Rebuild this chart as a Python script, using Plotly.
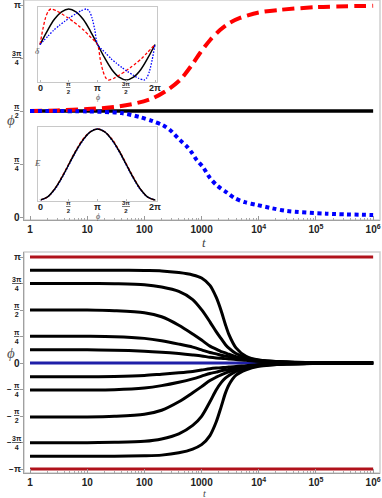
import numpy as np
import plotly.graph_objects as go

PI = np.pi

# ---------------- top panel: phi(t), three runs ----------------
t_black = [1, 1e6]
phi_black = [1.5708, 1.5708]

t_red = [1, 3, 10, 30, 75, 140, 250, 420, 700, 940, 1400, 2100, 3000, 4700, 1e4, 2.35e4, 1e5, 1e6]
phi_red = [1.571, 1.58, 1.60, 1.63, 1.69, 1.76, 1.88, 2.03, 2.27, 2.43, 2.62, 2.77, 2.87, 2.95, 3.03, 3.07, 3.11, 3.13]

t_blue = [1, 10, 40, 84, 140, 210, 280, 420, 560, 680, 830, 1060, 1400, 1850, 2800, 3800, 5700, 9200, 17000, 31000, 1.5e5, 1e6]
phi_blue = [1.571, 1.565, 1.54, 1.48, 1.42, 1.36, 1.29, 1.14, 1.04, 0.95, 0.84, 0.74, 0.58, 0.47, 0.36, 0.28, 0.22, 0.18, 0.13, 0.09, 0.05, 0.03]

# ---------------- inset 1: delta(phi) ----------------
phi_d_black = [0, 0.393, 0.785, 1.178, 1.571, 1.963, 2.356, 2.749, 3.142,
               3.534, 3.927, 4.320, 4.712, 5.105, 5.498, 5.890, 6.283]
d_black = [0, 0.38, 0.71, 0.92, 1.0, 0.92, 0.71, 0.38, 0, -0.38, -0.71, -0.92, -1.0, -0.92, -0.71, -0.38, 0]

phi_d_red = [0, 0.15, 0.3, 0.45, 0.6, 0.9, 1.2, 1.5, 1.8, 2.1, 2.4, 2.7, 3.142,
             3.29, 3.44, 3.59, 3.74, 4.04, 4.34, 4.64, 4.94, 5.24, 5.54, 5.84, 6.283]
d_red = [0, 0.42, 0.75, 0.94, 1.0, 0.95, 0.86, 0.76, 0.65, 0.53, 0.40, 0.24, 0,
         -0.42, -0.75, -0.94, -1.0, -0.95, -0.86, -0.76, -0.65, -0.53, -0.40, -0.24, 0]

phi_d_blue = [0, 0.44, 0.74, 1.04, 1.34, 1.64, 1.94, 2.24, 2.54, 2.69, 2.84, 2.99, 3.142,
              3.58, 3.88, 4.18, 4.48, 4.78, 5.08, 5.38, 5.68, 5.83, 5.98, 6.13, 6.283]
d_blue = [0, 0.24, 0.40, 0.53, 0.65, 0.76, 0.86, 0.95, 1.0, 0.94, 0.75, 0.42, 0,
          -0.24, -0.40, -0.53, -0.65, -0.76, -0.86, -0.95, -1.0, -0.94, -0.75, -0.42, 0]

# ---------------- inset 2: E(phi) ----------------
phi_e = [0, 0.393, 0.785, 1.178, 1.571, 1.963, 2.356, 2.749, 3.142,
         3.534, 3.927, 4.320, 4.712, 5.105, 5.498, 5.890, 6.283]
e_black = [0, 0.04, 0.15, 0.31, 0.50, 0.69, 0.85, 0.96, 1.0, 0.96, 0.85, 0.69, 0.50, 0.31, 0.15, 0.04, 0]
e_red = [0, 0.04, 0.15, 0.32, 0.51, 0.70, 0.86, 0.96, 1.0, 0.96, 0.86, 0.70, 0.51, 0.32, 0.15, 0.04, 0]
e_blue = [0, 0.04, 0.14, 0.30, 0.49, 0.68, 0.84, 0.96, 1.0, 0.96, 0.84, 0.68, 0.49, 0.30, 0.14, 0.04, 0]

# ---------------- bottom panel: phi(t) for many initial angles ----------------
t_grid = [1, 10, 30, 100, 200, 400, 700, 1000, 1400, 1800, 2200, 2600, 3000, 4000, 6000, 1e4, 3e4, 1e5, 1e6]
phi_runs = {
    "7pi/8": [2.75, 2.75, 2.75, 2.74, 2.73, 2.68, 2.61, 2.52, 2.30, 1.95, 1.55, 1.15, 0.85, 0.45, 0.20, 0.09, 0.03, 0.01, 0.00],
    "3pi/4": [2.36, 2.36, 2.35, 2.32, 2.25, 2.12, 1.88, 1.58, 1.22, 0.93, 0.72, 0.55, 0.44, 0.28, 0.16, 0.08, 0.03, 0.01, 0.00],
    "pi/2": [1.57, 1.57, 1.55, 1.49, 1.37, 1.12, 0.86, 0.68, 0.50, 0.41, 0.34, 0.30, 0.26, 0.19, 0.12, 0.06, 0.02, 0.01, 0.00],
    "pi/4": [0.79, 0.79, 0.78, 0.73, 0.66, 0.56, 0.47, 0.39, 0.31, 0.27, 0.23, 0.21, 0.19, 0.15, 0.11, 0.06, 0.02, 0.01, 0.00],
    "pi/8": [0.39, 0.39, 0.38, 0.35, 0.32, 0.28, 0.24, 0.21, 0.17, 0.15, 0.14, 0.13, 0.12, 0.10, 0.08, 0.05, 0.02, 0.01, 0.00],
    "-pi/8": [-0.41, -0.41, -0.40, -0.37, -0.33, -0.29, -0.25, -0.21, -0.17, -0.15, -0.14, -0.13, -0.12, -0.10, -0.08, -0.05, -0.02, -0.01, 0.00],
    "-pi/4": [-0.80, -0.80, -0.79, -0.74, -0.67, -0.57, -0.47, -0.39, -0.31, -0.27, -0.23, -0.21, -0.19, -0.15, -0.11, -0.06, -0.02, -0.01, 0.00],
    "-pi/2": [-1.60, -1.60, -1.58, -1.52, -1.40, -1.15, -0.88, -0.70, -0.52, -0.42, -0.35, -0.30, -0.26, -0.19, -0.12, -0.06, -0.02, -0.01, 0.00],
    "-3pi/4": [-2.36, -2.36, -2.35, -2.32, -2.25, -2.10, -1.85, -1.58, -1.15, -0.80, -0.58, -0.45, -0.37, -0.25, -0.15, -0.08, -0.03, -0.01, 0.00],
    "-7pi/8": [-2.76, -2.76, -2.76, -2.75, -2.73, -2.66, -2.55, -2.42, -2.15, -1.75, -1.30, -0.90, -0.65, -0.36, -0.20, -0.10, -0.03, -0.01, 0.00],
}
t_flat = [1, 1e6]
phi_top_flat = [PI, PI]
phi_bot_flat = [-PI, -PI]
phi_zero_flat = [0, 0]

# tick labels
x_tick_vals = [1, 10, 100, 1000, 1e4, 1e5, 1e6]
x_tick_text = ["1", "10", "100", "1000", "10<sup>4</sup>", "10<sup>5</sup>", "10<sup>6</sup>"]
x_minor_vals = [m * 10 ** d for d in range(6) for m in range(2, 10)]


def frac(num, den):
    return f"<u>{num}</u><br>{den}"


top_y_vals = [0, PI / 4, PI / 2, 3 * PI / 4, PI]
top_y_text = ["0", frac("π", "4"), frac("π", "2"), frac("3π", "4"), "π"]
bot_y_vals = [-PI, -3 * PI / 4, -PI / 2, -PI / 4, 0, PI / 4, PI / 2, 3 * PI / 4, PI]
bot_y_text = ["π", frac("3π", "4"), frac("π", "2"), frac("π", "4"), "0",
              frac("π", "4"), frac("π", "2"), frac("3π", "4"), "π"]
inset_x_vals = [0, PI / 2, PI, 3 * PI / 2, 2 * PI]
inset_x_text = ["0", frac("π", "2"), "π", frac("3π", "2"), "2π"]

# ---------------- layout geometry (pixels) ----------------
W, H = 382, 498
ML, MR, MT, MB = 24, 2, 0, 25
PW, PH = W - ML - MR, H - MT - MB


def px(x):
    return (x - ML) / PW


def py(y):
    return 1 - (y - MT) / PH


SANS = "Liberation Sans"
SERIF = "Liberation Serif"

fig = go.Figure()

# top panel
fig.add_trace(go.Scatter(x=t_black, y=phi_black, mode="lines",
                         line=dict(color="black", width=3.5), xaxis="x", yaxis="y"))
fig.add_trace(go.Scatter(x=t_red, y=phi_red, mode="lines",
                         line=dict(color="#ff0000", width=4, dash="12px,6px", shape="spline", smoothing=0.8),
                         xaxis="x", yaxis="y"))
fig.add_trace(go.Scatter(x=t_blue, y=phi_blue, mode="lines",
                         line=dict(color="#0000ff", width=4, dash="4px,3.5px", shape="spline", smoothing=0.8),
                         xaxis="x", yaxis="y"))

# inset 1
fig.add_trace(go.Scatter(x=phi_d_black, y=d_black, mode="lines",
                         line=dict(color="black", width=1.5, shape="spline"), xaxis="x3", yaxis="y3"))
fig.add_trace(go.Scatter(x=phi_d_red, y=d_red, mode="lines",
                         line=dict(color="#ff0000", width=1.3, dash="3px,2px", shape="spline", smoothing=0.7),
                         xaxis="x3", yaxis="y3"))
fig.add_trace(go.Scatter(x=phi_d_blue, y=d_blue, mode="lines",
                         line=dict(color="#0000ff", width=1.3, dash="1.5px,1.5px", shape="spline", smoothing=0.7),
                         xaxis="x3", yaxis="y3"))

# inset 2
fig.add_trace(go.Scatter(x=phi_e, y=e_red, mode="lines",
                         line=dict(color="#ff0000", width=1.3, dash="3px,2px", shape="spline"),
                         xaxis="x4", yaxis="y4"))
fig.add_trace(go.Scatter(x=phi_e, y=e_blue, mode="lines",
                         line=dict(color="#0000ff", width=1.3, dash="1.5px,1.5px", shape="spline"),
                         xaxis="x4", yaxis="y4"))
fig.add_trace(go.Scatter(x=phi_e, y=e_black, mode="lines",
                         line=dict(color="black", width=1.5, shape="spline"), xaxis="x4", yaxis="y4"))

# bottom panel
fig.add_trace(go.Scatter(x=t_flat, y=phi_top_flat, mode="lines",
                         line=dict(color="#b0121b", width=3), xaxis="x2", yaxis="y2"))
fig.add_trace(go.Scatter(x=t_flat, y=phi_bot_flat, mode="lines",
                         line=dict(color="#b0121b", width=3), xaxis="x2", yaxis="y2"))
fig.add_trace(go.Scatter(x=t_flat, y=phi_zero_flat, mode="lines",
                         line=dict(color="#1f1fa8", width=3), xaxis="x2", yaxis="y2"))
for name, vals in phi_runs.items():
    fig.add_trace(go.Scatter(x=t_grid, y=vals, mode="lines", name=name,
                             line=dict(color="black", width=3, shape="spline", smoothing=0.8),
                             xaxis="x2", yaxis="y2"))

log_range = [-0.105, 6.12]
main_x = dict(type="log", range=log_range, showgrid=False, zeroline=False, automargin=False,
              showline=True, linecolor="#a0a0a0", linewidth=1,
              tickmode="array", tickvals=x_tick_vals, ticktext=x_tick_text,
              ticks="inside", ticklen=4, tickcolor="#999999", ticklabeloverflow="allow",
              tickfont=dict(family=SANS, size=10, color="#222222", weight="bold"),
              minor=dict(tickvals=x_minor_vals, ticks="inside", ticklen=2, tickcolor="#aaaaaa"))
main_y = dict(showgrid=False, zeroline=False, showline=True, linecolor="#a0a0a0", linewidth=1,
              automargin=False, ticks="outside", ticklen=3, tickcolor="#999999", showticklabels=False)
inset_x = dict(range=[-0.11, 6.39], showgrid=False, zeroline=False, showline=True, mirror=True,
               automargin=False, linecolor="#c8c8c8", linewidth=1, tickmode="array", tickvals=inset_x_vals,
               ticks="inside", ticklen=2, tickcolor="#bbbbbb", showticklabels=False)
inset_y = dict(showgrid=False, zeroline=False, showline=True, mirror=True, automargin=False,
               linecolor="#c8c8c8", linewidth=1, showticklabels=False, ticks="")

fig.update_layout(
    width=W, height=H,
    margin=dict(l=ML, r=MR, t=MT, b=MB, autoexpand=False),
    paper_bgcolor="white", plot_bgcolor="white",
    showlegend=False,
    xaxis=dict(main_x, domain=[0, 1], anchor="y"),
    yaxis=dict(main_y, domain=[py(220), py(0)], range=[-0.044, 3.216], tickvals=top_y_vals),
    xaxis2=dict(main_x, domain=[0, 1], anchor="y2"),
    yaxis2=dict(main_y, domain=[py(473), py(252)], range=[-3.26, 3.29], tickvals=bot_y_vals),
    xaxis3=dict(inset_x, domain=[px(38), px(157)], anchor="y3"),
    yaxis3=dict(inset_y, domain=[py(82), py(7)], range=[-1.056, 1.056], anchor="x3"),
    xaxis4=dict(inset_x, domain=[px(38), px(157)], anchor="y4"),
    yaxis4=dict(inset_y, domain=[py(201), py(127)], range=[-0.014, 1.028], anchor="x4"),
)

# light frame on top/right of the main panels
for xr, yr in (("x", "y"), ("x2", "y2")):
    fig.add_shape(type="rect", xref=f"{xr} domain", yref=f"{yr} domain", x0=0, x1=1, y0=0, y1=1,
                  line=dict(color="#cfcfcf", width=1.5), layer="below")

annotations = []


def ylabel(val, text, yref, neg=False):
    if "<br>" in text:
        size = 7
    elif text == "0":
        size = 10
    else:
        size = 9
    annotations.append(dict(x=px(17), y=val, xref="paper", yref=yref, text=text, showarrow=False,
                            xanchor="center", yanchor="middle", align="center",
                            font=dict(family=SANS, size=size, color="#222222", weight="bold")))
    if neg:
        annotations.append(dict(x=px(9 if "<br>" in text else 11), y=val, xref="paper", yref=yref,
                                text="−", showarrow=False, xanchor="center", yanchor="middle",
                                font=dict(family=SANS, size=8, color="#222222", weight="bold")))


for v, s in zip(top_y_vals, top_y_text):
    ylabel(v, s, "y")
for v, s in zip(bot_y_vals, bot_y_text):
    ylabel(v, s, "y2", neg=v < -1e-9)

for xr, ylab_px, phi_px in (("x3", 88, 97), ("x4", 207, 216)):
    for v, s in zip(inset_x_vals, inset_x_text):
        annotations.append(dict(x=v, y=py(ylab_px), xref=xr, yref="paper", text=s, showarrow=False,
                                xanchor="center", yanchor="middle", align="center",
                                font=dict(family=SANS, size=6 if "<br>" in s else 9,
                                          color="#222222", weight="bold")))
    annotations.append(dict(x=PI, y=py(phi_px), xref=xr, yref="paper", text="ϕ", showarrow=False,
                            xanchor="center", yanchor="middle",
                            font=dict(family=SERIF, size=8, color="#555555", style="italic")))

annotations += [
    dict(x=px(33), y=py(44), xref="paper", yref="paper", text="δ", showarrow=False,
         font=dict(family=SERIF, size=9, color="#555555", style="italic")),
    dict(x=px(32), y=py(163), xref="paper", yref="paper", text="E", showarrow=False,
         font=dict(family=SERIF, size=9, color="#555555", style="italic")),
    dict(x=px(5), y=py(110), xref="paper", yref="paper", text="ϕ", showarrow=False,
         font=dict(family=SERIF, size=15, color="#555555", style="italic")),
    dict(x=px(5), y=py(363), xref="paper", yref="paper", text="ϕ", showarrow=False,
         font=dict(family=SERIF, size=15, color="#555555", style="italic")),
    dict(x=px(204), y=py(242), xref="paper", yref="paper", text="t", showarrow=False,
         font=dict(family=SERIF, size=13, color="#444444", style="italic")),
    dict(x=px(204), y=py(493), xref="paper", yref="paper", text="t", showarrow=False,
         yanchor="middle", font=dict(family=SERIF, size=10, color="#444444", style="italic")),
]
fig.update_layout(annotations=annotations)

# the page's default body margin would shift the whole figure by 8px
fig.write_html("out.html", config={"displayModeBar": False},
               post_script="document.body.style.margin='0';")
